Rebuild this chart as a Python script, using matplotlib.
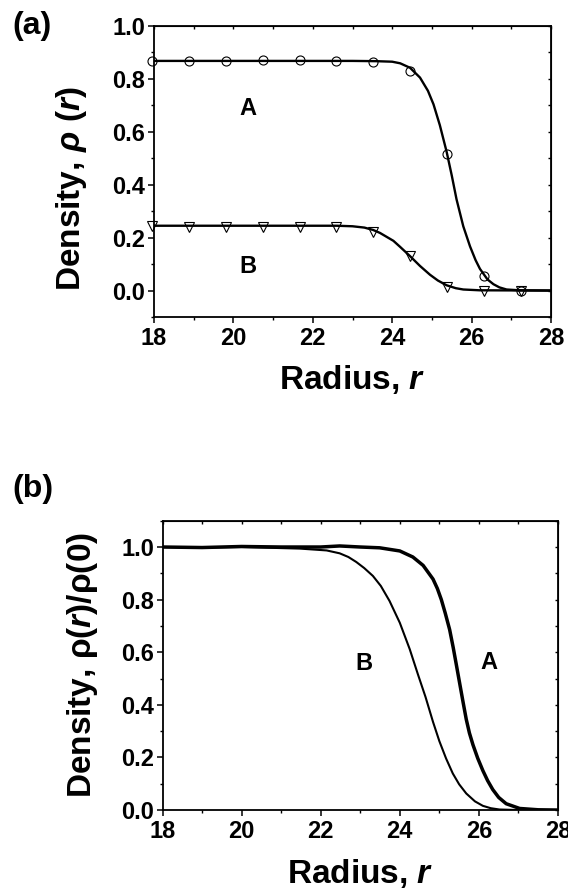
import numpy as np
import matplotlib
matplotlib.use("Agg")
import matplotlib.pyplot as plt
from matplotlib.ticker import MultipleLocator, NullLocator, FormatStrFormatter

plt.rcParams['font.family'] = ['Liberation Sans', 'DejaVu Sans']
plt.rcParams['font.weight'] = 'bold'
plt.rcParams['mathtext.fontset'] = 'custom'
plt.rcParams['mathtext.rm'] = 'Liberation Sans:bold'
plt.rcParams['mathtext.it'] = 'Liberation Sans:bold:italic'
plt.rcParams['mathtext.bf'] = 'Liberation Sans:bold'

# ---- panel (a): fitted curves
r_fitA = [18.0, 19.0, 20.0, 21.0, 22.0, 23.0, 23.6, 24.0, 24.2, 24.45, 24.7, 24.9, 25.04,
          25.2, 25.37, 25.5, 25.62, 25.79, 25.96, 26.1, 26.21, 26.4, 26.55, 26.7, 26.88,
          27.2, 28.0]
rho_fitA = [0.868, 0.868, 0.868, 0.868, 0.868, 0.868, 0.867, 0.865, 0.859, 0.842, 0.805,
            0.755, 0.704, 0.625, 0.525, 0.435, 0.345, 0.243, 0.167, 0.115, 0.082, 0.042,
            0.024, 0.012, 0.004, 0.001, 0.0]
r_fitB = [18.0, 22.6, 23.0, 23.3, 23.52, 23.69, 24.03, 24.2, 24.45, 24.7, 24.95, 25.15,
          25.37, 25.6, 25.79, 26.2, 28.0]
rho_fitB = [0.245, 0.245, 0.243, 0.238, 0.229, 0.218, 0.188, 0.165, 0.13, 0.093, 0.06,
            0.038, 0.02, 0.009, 0.004, 0.001, 0.0]

# ---- panel (a): simulation points
r_pts = [17.94, 18.87, 19.81, 20.74, 21.67, 22.59, 23.52, 24.45, 25.38, 26.31, 27.25]
rho_ptsA = [0.868, 0.868, 0.868, 0.870, 0.870, 0.868, 0.862, 0.828, 0.517, 0.055, 0.0]
rho_ptsB = [0.243, 0.239, 0.241, 0.242, 0.240, 0.240, 0.22, 0.13, 0.015, 0.0, -0.002]

# ---- panel (b): normalised profiles
r_normA = [18.0, 19.0, 20.0, 21.0, 22.0, 22.48, 23.0, 23.49, 24.0, 24.33, 24.59, 24.84,
           24.95, 25.05, 25.15, 25.26, 25.35, 25.43, 25.51, 25.6, 25.68, 25.76, 25.85,
           25.97, 26.1, 26.22, 26.35, 26.5, 26.69, 27.03, 27.5, 28.0]
rho_normA = [1.0, 0.998, 1.002, 1.0, 1.0, 1.004, 1.0, 0.997, 0.985, 0.962, 0.93, 0.878,
             0.842, 0.8, 0.748, 0.686, 0.618, 0.552, 0.485, 0.41, 0.345, 0.293, 0.248,
             0.197, 0.15, 0.112, 0.078, 0.048, 0.024, 0.006, 0.001, 0.0]
r_normB = [18.0, 19.0, 20.0, 21.47, 22.15, 22.48, 22.7, 22.9, 23.1, 23.32, 23.52, 23.74,
           24.0, 24.25, 24.46, 24.65, 24.84, 25.0, 25.17, 25.34, 25.5, 25.68, 25.9, 26.1,
           26.3, 26.52, 27.0, 28.0]
rho_normB = [1.0, 0.998, 1.0, 0.994, 0.987, 0.976, 0.962, 0.943, 0.92, 0.89, 0.852,
             0.795, 0.712, 0.612, 0.515, 0.43, 0.335, 0.262, 0.196, 0.139, 0.098, 0.063,
             0.033, 0.016, 0.007, 0.002, 0.0, 0.0]

TICK = 17
LAB = 24

fig = plt.figure(figsize=(5.68, 8.93), dpi=100)
ax1 = fig.add_axes([0.2711, 0.645, 0.699, 0.3259])
ax2 = fig.add_axes([0.2861, 0.0929, 0.6963, 0.3240])


def style(ax, ylo, yhi, ypad):
    ax.set_xlim(18, 28)
    ax.set_ylim(ylo, yhi)
    ax.xaxis.set_major_locator(MultipleLocator(2))
    ax.xaxis.set_minor_locator(MultipleLocator(1))
    ax.yaxis.set_major_locator(MultipleLocator(0.2))
    ax.yaxis.set_minor_locator(MultipleLocator(0.1))
    ax.tick_params(which='major', direction='out', length=4.5, width=1.1,
                   labelsize=TICK, pad=ypad)
    ax.tick_params(which='minor', direction='out', length=2.5, width=1.0)
    ax.tick_params(axis='x', pad=3)
    for s in ax.spines.values():
        s.set_linewidth(1.3)
    ax.yaxis.set_major_formatter(FormatStrFormatter('%.1f'))
    # small inward ticks on top and right
    sx = ax.secondary_xaxis('top')
    sx.xaxis.set_major_locator(MultipleLocator(1))
    sx.xaxis.set_minor_locator(NullLocator())
    sx.tick_params(direction='in', length=2.5, width=1.0, labeltop=False)
    sy = ax.secondary_yaxis('right')
    sy.yaxis.set_major_locator(MultipleLocator(0.1))
    sy.yaxis.set_minor_locator(NullLocator())
    sy.tick_params(direction='in', length=2.5, width=1.0, labelright=False)


# panel (a)
ax1.plot(r_fitA, rho_fitA, color='black', lw=1.7, zorder=2)
ax1.plot(r_fitB, rho_fitB, color='black', lw=1.7, zorder=2)
ax1.plot(r_pts, rho_ptsA, ls='none', marker='o', ms=6.5, mfc='none', mec='black',
         mew=0.8, clip_on=False, zorder=3)
ax1.plot(r_pts, rho_ptsB, ls='none', marker='v', ms=7, mfc='none', mec='black',
         mew=0.8, clip_on=False, zorder=3)
style(ax1, -0.1, 1.0, 2)
ax1.text(20.37, 0.69, "A", fontsize=TICK, fontweight='bold', ha='center', va='center')
ax1.text(20.37, 0.09, "B", fontsize=TICK, fontweight='bold', ha='center', va='center')
ax1.text(0.5, -0.216, r"Radius, $\mathit{r}$", transform=ax1.transAxes,
         fontsize=LAB, ha='center', va='center')
ax1.text(-0.207, 0.44, "Density, $\\mathit{\u03c1\\ (r)}$", transform=ax1.transAxes,
         fontsize=LAB, rotation=90, ha='center', va='center')
fig.text(0.022, 0.971, "(a)", fontsize=23, fontweight='bold', ha='left', va='center')

# panel (b)
ax2.plot(r_normA, rho_normA, color='black', lw=2.5, zorder=2)
ax2.plot(r_normB, rho_normB, color='black', lw=1.5, zorder=2)
style(ax2, 0.0, 1.1, 1.5)
ax2.text(23.09, 0.558, "B", fontsize=TICK, fontweight='bold', ha='center', va='center')
ax2.text(26.25, 0.56, "A", fontsize=TICK, fontweight='bold', ha='center', va='center')
ax2.text(0.5, -0.218, r"Radius, $\mathit{r}$", transform=ax2.transAxes,
         fontsize=LAB, ha='center', va='center')
ax2.text(-0.2035, 0.5, "Density, $\\mathrm{\u03c1(}\\mathit{r}\\mathrm{)/\u03c1(0)}$",
         transform=ax2.transAxes, fontsize=LAB, rotation=90, ha='center', va='center')
fig.text(0.022, 0.452, "(b)", fontsize=23, fontweight='bold', ha='left', va='center')

fig.savefig("out.png", dpi=100)
